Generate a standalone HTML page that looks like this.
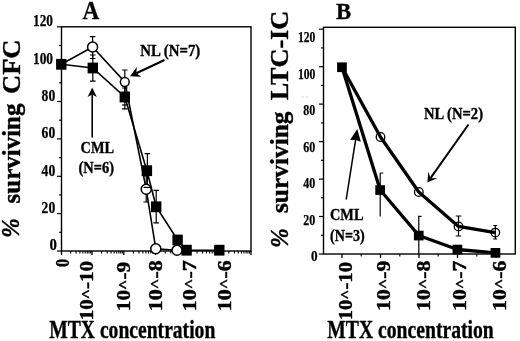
<!DOCTYPE html>
<html><head><meta charset="utf-8"><title>MTX</title>
<style>
html,body{margin:0;padding:0;background:#fff;}
body{width:520px;height:341px;overflow:hidden;}
svg{display:block;filter:grayscale(1) blur(0.3px);}
text{font-family:"Liberation Serif",serif;font-weight:bold;fill:#000;stroke:#000;stroke-width:0.38;stroke-linejoin:round;}
</style></head><body>
<svg width="520" height="341" viewBox="0 0 520 341">
<rect width="520" height="341" fill="#fff"/>

<rect x="61.5" y="26.8" width="189.5" height="224.2" fill="none" stroke="#000" stroke-width="1.4"/>
<line x1="56.9" y1="251.0" x2="61.5" y2="251.0" stroke="#000" stroke-width="1.2"/>
<line x1="59.1" y1="232.3" x2="61.5" y2="232.3" stroke="#000" stroke-width="1.2"/>
<line x1="56.9" y1="213.6" x2="61.5" y2="213.6" stroke="#000" stroke-width="1.2"/>
<line x1="59.1" y1="194.9" x2="61.5" y2="194.9" stroke="#000" stroke-width="1.2"/>
<line x1="56.9" y1="176.3" x2="61.5" y2="176.3" stroke="#000" stroke-width="1.2"/>
<line x1="59.1" y1="157.6" x2="61.5" y2="157.6" stroke="#000" stroke-width="1.2"/>
<line x1="56.9" y1="138.9" x2="61.5" y2="138.9" stroke="#000" stroke-width="1.2"/>
<line x1="59.1" y1="120.2" x2="61.5" y2="120.2" stroke="#000" stroke-width="1.2"/>
<line x1="56.9" y1="101.5" x2="61.5" y2="101.5" stroke="#000" stroke-width="1.2"/>
<line x1="59.1" y1="82.8" x2="61.5" y2="82.8" stroke="#000" stroke-width="1.2"/>
<line x1="56.9" y1="64.2" x2="61.5" y2="64.2" stroke="#000" stroke-width="1.2"/>
<line x1="59.1" y1="45.5" x2="61.5" y2="45.5" stroke="#000" stroke-width="1.2"/>
<line x1="56.9" y1="26.8" x2="61.5" y2="26.8" stroke="#000" stroke-width="1.2"/>
<text transform="translate(49.5 250.3) rotate(0)" font-size="16" text-anchor="start" textLength="7.4" lengthAdjust="spacingAndGlyphs" style="stroke-width:0.25">0</text>
<text transform="translate(41.6 212.9) rotate(0)" font-size="16" text-anchor="start" textLength="13.6" lengthAdjust="spacingAndGlyphs" style="stroke-width:0.25">20</text>
<text transform="translate(41.6 175.6) rotate(0)" font-size="16" text-anchor="start" textLength="13.6" lengthAdjust="spacingAndGlyphs" style="stroke-width:0.25">40</text>
<text transform="translate(41.6 138.2) rotate(0)" font-size="16" text-anchor="start" textLength="13.6" lengthAdjust="spacingAndGlyphs" style="stroke-width:0.25">60</text>
<text transform="translate(41.6 100.8) rotate(0)" font-size="16" text-anchor="start" textLength="13.6" lengthAdjust="spacingAndGlyphs" style="stroke-width:0.25">80</text>
<text transform="translate(33.0 63.5) rotate(0)" font-size="16" text-anchor="start" textLength="20" lengthAdjust="spacingAndGlyphs" style="stroke-width:0.25">100</text>
<text transform="translate(33.0 26.1) rotate(0)" font-size="16" text-anchor="start" textLength="20" lengthAdjust="spacingAndGlyphs" style="stroke-width:0.25">120</text>
<line x1="92.0" y1="251.0" x2="92.0" y2="255.0" stroke="#000" stroke-width="1.3"/>
<line x1="101.6" y1="251.0" x2="101.6" y2="253.5" stroke="#000" stroke-width="1.1"/>
<line x1="107.2" y1="251.0" x2="107.2" y2="253.5" stroke="#000" stroke-width="1.1"/>
<line x1="111.1" y1="251.0" x2="111.1" y2="253.5" stroke="#000" stroke-width="1.1"/>
<line x1="114.2" y1="251.0" x2="114.2" y2="253.5" stroke="#000" stroke-width="1.1"/>
<line x1="116.7" y1="251.0" x2="116.7" y2="253.5" stroke="#000" stroke-width="1.1"/>
<line x1="118.9" y1="251.0" x2="118.9" y2="253.5" stroke="#000" stroke-width="1.1"/>
<line x1="120.7" y1="251.0" x2="120.7" y2="253.5" stroke="#000" stroke-width="1.1"/>
<line x1="122.3" y1="251.0" x2="122.3" y2="253.5" stroke="#000" stroke-width="1.1"/>
<line x1="123.8" y1="251.0" x2="123.8" y2="255.0" stroke="#000" stroke-width="1.3"/>
<line x1="133.4" y1="251.0" x2="133.4" y2="253.5" stroke="#000" stroke-width="1.1"/>
<line x1="139.0" y1="251.0" x2="139.0" y2="253.5" stroke="#000" stroke-width="1.1"/>
<line x1="142.9" y1="251.0" x2="142.9" y2="253.5" stroke="#000" stroke-width="1.1"/>
<line x1="146.0" y1="251.0" x2="146.0" y2="253.5" stroke="#000" stroke-width="1.1"/>
<line x1="148.5" y1="251.0" x2="148.5" y2="253.5" stroke="#000" stroke-width="1.1"/>
<line x1="150.7" y1="251.0" x2="150.7" y2="253.5" stroke="#000" stroke-width="1.1"/>
<line x1="152.5" y1="251.0" x2="152.5" y2="253.5" stroke="#000" stroke-width="1.1"/>
<line x1="154.1" y1="251.0" x2="154.1" y2="253.5" stroke="#000" stroke-width="1.1"/>
<line x1="155.6" y1="251.0" x2="155.6" y2="255.0" stroke="#000" stroke-width="1.3"/>
<line x1="165.2" y1="251.0" x2="165.2" y2="253.5" stroke="#000" stroke-width="1.1"/>
<line x1="170.8" y1="251.0" x2="170.8" y2="253.5" stroke="#000" stroke-width="1.1"/>
<line x1="174.7" y1="251.0" x2="174.7" y2="253.5" stroke="#000" stroke-width="1.1"/>
<line x1="177.8" y1="251.0" x2="177.8" y2="253.5" stroke="#000" stroke-width="1.1"/>
<line x1="180.3" y1="251.0" x2="180.3" y2="253.5" stroke="#000" stroke-width="1.1"/>
<line x1="182.5" y1="251.0" x2="182.5" y2="253.5" stroke="#000" stroke-width="1.1"/>
<line x1="184.3" y1="251.0" x2="184.3" y2="253.5" stroke="#000" stroke-width="1.1"/>
<line x1="185.9" y1="251.0" x2="185.9" y2="253.5" stroke="#000" stroke-width="1.1"/>
<line x1="187.4" y1="251.0" x2="187.4" y2="255.0" stroke="#000" stroke-width="1.3"/>
<line x1="197.0" y1="251.0" x2="197.0" y2="253.5" stroke="#000" stroke-width="1.1"/>
<line x1="202.6" y1="251.0" x2="202.6" y2="253.5" stroke="#000" stroke-width="1.1"/>
<line x1="206.5" y1="251.0" x2="206.5" y2="253.5" stroke="#000" stroke-width="1.1"/>
<line x1="209.6" y1="251.0" x2="209.6" y2="253.5" stroke="#000" stroke-width="1.1"/>
<line x1="212.1" y1="251.0" x2="212.1" y2="253.5" stroke="#000" stroke-width="1.1"/>
<line x1="214.3" y1="251.0" x2="214.3" y2="253.5" stroke="#000" stroke-width="1.1"/>
<line x1="216.1" y1="251.0" x2="216.1" y2="253.5" stroke="#000" stroke-width="1.1"/>
<line x1="217.7" y1="251.0" x2="217.7" y2="253.5" stroke="#000" stroke-width="1.1"/>
<line x1="219.2" y1="251.0" x2="219.2" y2="255.0" stroke="#000" stroke-width="1.3"/>
<line x1="228.8" y1="251.0" x2="228.8" y2="253.5" stroke="#000" stroke-width="1.1"/>
<line x1="234.4" y1="251.0" x2="234.4" y2="253.5" stroke="#000" stroke-width="1.1"/>
<line x1="238.3" y1="251.0" x2="238.3" y2="253.5" stroke="#000" stroke-width="1.1"/>
<line x1="241.4" y1="251.0" x2="241.4" y2="253.5" stroke="#000" stroke-width="1.1"/>
<line x1="243.9" y1="251.0" x2="243.9" y2="253.5" stroke="#000" stroke-width="1.1"/>
<line x1="246.1" y1="251.0" x2="246.1" y2="253.5" stroke="#000" stroke-width="1.1"/>
<line x1="247.9" y1="251.0" x2="247.9" y2="253.5" stroke="#000" stroke-width="1.1"/>
<line x1="249.5" y1="251.0" x2="249.5" y2="253.5" stroke="#000" stroke-width="1.1"/>
<line x1="251.0" y1="251.0" x2="251.0" y2="255.0" stroke="#000" stroke-width="1.3"/>
<line x1="70.7" y1="251.0" x2="70.7" y2="253.5" stroke="#000" stroke-width="1.1"/>
<line x1="76.1" y1="251.0" x2="76.1" y2="253.5" stroke="#000" stroke-width="1.1"/>
<line x1="79.9" y1="251.0" x2="79.9" y2="253.5" stroke="#000" stroke-width="1.1"/>
<line x1="82.8" y1="251.0" x2="82.8" y2="253.5" stroke="#000" stroke-width="1.1"/>
<line x1="85.2" y1="251.0" x2="85.2" y2="253.5" stroke="#000" stroke-width="1.1"/>
<line x1="87.3" y1="251.0" x2="87.3" y2="253.5" stroke="#000" stroke-width="1.1"/>
<line x1="89.0" y1="251.0" x2="89.0" y2="253.5" stroke="#000" stroke-width="1.1"/>
<line x1="90.6" y1="251.0" x2="90.6" y2="253.5" stroke="#000" stroke-width="1.1"/>
<line x1="61.5" y1="251.0" x2="61.5" y2="255.0" stroke="#000" stroke-width="1.3"/>
<text transform="translate(69.3 267.0) rotate(-90)" font-size="18" text-anchor="start" textLength="8.2" lengthAdjust="spacingAndGlyphs">0</text>
<text transform="translate(92.8 320.3) rotate(-90)" font-size="18.5" text-anchor="start" textLength="59.3" lengthAdjust="spacingAndGlyphs">10<tspan font-size="15.5" dy="-0.9">^</tspan><tspan dy="0.9">-10</tspan></text>
<text transform="translate(129.6 311.2) rotate(-90)" font-size="18.5" text-anchor="start" textLength="49.5" lengthAdjust="spacingAndGlyphs">10<tspan font-size="15.5" dy="-0.9">^</tspan><tspan dy="0.9">-9</tspan></text>
<text transform="translate(162.0 311.2) rotate(-90)" font-size="18.5" text-anchor="start" textLength="51" lengthAdjust="spacingAndGlyphs">10<tspan font-size="15.5" dy="-0.9">^</tspan><tspan dy="0.9">-8</tspan></text>
<text transform="translate(196.0 311.2) rotate(-90)" font-size="18.5" text-anchor="start" textLength="51" lengthAdjust="spacingAndGlyphs">10<tspan font-size="15.5" dy="-0.9">^</tspan><tspan dy="0.9">-7</tspan></text>
<text transform="translate(231.2 311.2) rotate(-90)" font-size="18.5" text-anchor="start" textLength="51" lengthAdjust="spacingAndGlyphs">10<tspan font-size="15.5" dy="-0.9">^</tspan><tspan dy="0.9">-6</tspan></text>
<path d="M92.6 36.6V58.5M89.8 36.6H95.4M89.8 58.5H95.4" stroke="#000" stroke-width="1.2" fill="none"/>
<path d="M92.8 55.0V81.2M90.0 55.0H95.6M90.0 81.2H95.6" stroke="#000" stroke-width="1.2" fill="none"/>
<path d="M124.8 70.0V94.0M122.0 70.0H127.6M122.0 94.0H127.6" stroke="#000" stroke-width="1.2" fill="none"/>
<path d="M124.8 88.0V108.8M122.0 88.0H127.6M122.0 108.8H127.6" stroke="#000" stroke-width="1.2" fill="none"/>
<path d="M122 105H127.6" stroke="#000" stroke-width="1.2"/>
<path d="M147.4 153.7V187.0M144.6 153.7H150.2M144.6 187.0H150.2" stroke="#000" stroke-width="1.2" fill="none"/>
<path d="M146.2 176.0V202.0M143.4 176.0H149.0M143.4 202.0H149.0" stroke="#000" stroke-width="1.2" fill="none"/>
<path d="M156.2 190.3V222.9M153.4 190.3H159.0M153.4 222.9H159.0" stroke="#000" stroke-width="1.2" fill="none"/>
<polyline fill="none" stroke="#000" stroke-width="1.6" points="61.3,64.3 92.6,47.0 124.8,82.0 146.2,189.2 155.8,248.8 177.0,250.2"/>
<polyline fill="none" stroke="#000" stroke-width="1.6" points="61.3,64.3 92.8,68.0 124.8,97.0 146.9,170.7 156.2,206.8 177.6,240.0 186.6,250.2 219.3,250.2"/>
<circle cx="92.6" cy="47.0" r="5.0" fill="#fff" stroke="#000" stroke-width="1.5"/>
<circle cx="124.8" cy="82.0" r="4.4" fill="#fff" stroke="#000" stroke-width="1.5"/>
<circle cx="146.2" cy="189.2" r="5.0" fill="#fff" stroke="#000" stroke-width="1.5"/>
<circle cx="155.8" cy="248.8" r="5.0" fill="#fff" stroke="#000" stroke-width="1.5"/>
<circle cx="177.0" cy="250.2" r="5.0" fill="#fff" stroke="#000" stroke-width="1.5"/>
<rect x="56.1" y="58.9" width="10.4" height="10.8" fill="#000"/>
<rect x="87.6" y="62.6" width="10.4" height="10.8" fill="#000"/>
<rect x="119.6" y="91.6" width="10.4" height="10.8" fill="#000"/>
<rect x="141.7" y="165.3" width="10.4" height="10.8" fill="#000"/>
<rect x="151.0" y="201.4" width="10.4" height="10.8" fill="#000"/>
<rect x="172.4" y="234.6" width="10.4" height="10.8" fill="#000"/>
<rect x="181.4" y="244.8" width="10.4" height="10.8" fill="#000"/>
<rect x="214.1" y="244.8" width="10.4" height="10.8" fill="#000"/>
<path d="M143.6 187.4H150.4" stroke="#000" stroke-width="1.2"/>
<text transform="translate(82.5 18.8) rotate(0)" font-size="25.8" text-anchor="start" textLength="16.8" lengthAdjust="spacingAndGlyphs" style="stroke-width:0.3">A</text>
<text transform="translate(140.3 55.6) rotate(0)" font-size="17.5" text-anchor="start" textLength="60" lengthAdjust="spacingAndGlyphs">NL (N=7)</text>
<path d="M164.5 60.0L136.3 73.2" stroke="#000" stroke-width="2.1" fill="none"/>
<path d="M130.0 76.2L136.8 67.1L136.3 73.2L141.3 76.8Z" fill="#000"/>
<text transform="translate(80.6 152.6) rotate(0)" font-size="17.5" text-anchor="start" textLength="33.5" lengthAdjust="spacingAndGlyphs">CML</text>
<text transform="translate(78.5 173.2) rotate(0)" font-size="17.5" text-anchor="start" textLength="35.5" lengthAdjust="spacingAndGlyphs">(N=6)</text>
<path d="M92.2 137.5L92.2 94.5" stroke="#000" stroke-width="1.6" fill="none"/>
<path d="M92.2 87.5L96.8 97.0L92.2 94.5L87.6 97.0Z" fill="#000"/>
<text transform="translate(49.3 338.0) rotate(0)" font-size="25.5" text-anchor="start" textLength="166" lengthAdjust="spacingAndGlyphs">MTX concentration</text>
<text transform="translate(19.2 237.8) rotate(-90)" font-size="25" text-anchor="start" textLength="19.5" lengthAdjust="spacingAndGlyphs" font-style="italic">%</text>
<text transform="translate(20.0 203.5) rotate(-90)" font-size="25" text-anchor="start" textLength="100" lengthAdjust="spacingAndGlyphs">surviving</text>
<text transform="translate(20.0 94.0) rotate(-90)" font-size="25" text-anchor="start" textLength="54.5" lengthAdjust="spacingAndGlyphs">CFC</text>
<rect x="323.5" y="27.3" width="191.79999999999995" height="226.70000000000002" fill="none" stroke="#000" stroke-width="1.4"/>
<line x1="318.9" y1="254.0" x2="323.5" y2="254.0" stroke="#000" stroke-width="1.2"/>
<line x1="321.1" y1="235.3" x2="323.5" y2="235.3" stroke="#000" stroke-width="1.2"/>
<line x1="318.9" y1="216.5" x2="323.5" y2="216.5" stroke="#000" stroke-width="1.2"/>
<line x1="321.1" y1="197.8" x2="323.5" y2="197.8" stroke="#000" stroke-width="1.2"/>
<line x1="318.9" y1="179.1" x2="323.5" y2="179.1" stroke="#000" stroke-width="1.2"/>
<line x1="321.1" y1="160.3" x2="323.5" y2="160.3" stroke="#000" stroke-width="1.2"/>
<line x1="318.9" y1="141.6" x2="323.5" y2="141.6" stroke="#000" stroke-width="1.2"/>
<line x1="321.1" y1="122.9" x2="323.5" y2="122.9" stroke="#000" stroke-width="1.2"/>
<line x1="318.9" y1="104.1" x2="323.5" y2="104.1" stroke="#000" stroke-width="1.2"/>
<line x1="321.1" y1="85.4" x2="323.5" y2="85.4" stroke="#000" stroke-width="1.2"/>
<line x1="318.9" y1="66.7" x2="323.5" y2="66.7" stroke="#000" stroke-width="1.2"/>
<line x1="321.1" y1="47.9" x2="323.5" y2="47.9" stroke="#000" stroke-width="1.2"/>
<line x1="318.9" y1="29.2" x2="323.5" y2="29.2" stroke="#000" stroke-width="1.2"/>
<text transform="translate(311.0 261.0) rotate(0)" font-size="14.5" text-anchor="start" textLength="6.6" lengthAdjust="spacingAndGlyphs" style="stroke-width:0.25">0</text>
<text transform="translate(303.3 224.5) rotate(0)" font-size="14.5" text-anchor="start" textLength="12.0" lengthAdjust="spacingAndGlyphs" style="stroke-width:0.25">20</text>
<text transform="translate(303.3 188.1) rotate(0)" font-size="14.5" text-anchor="start" textLength="12.0" lengthAdjust="spacingAndGlyphs" style="stroke-width:0.25">40</text>
<text transform="translate(303.3 151.6) rotate(0)" font-size="14.5" text-anchor="start" textLength="12.0" lengthAdjust="spacingAndGlyphs" style="stroke-width:0.25">60</text>
<text transform="translate(303.3 115.1) rotate(0)" font-size="14.5" text-anchor="start" textLength="12.0" lengthAdjust="spacingAndGlyphs" style="stroke-width:0.25">80</text>
<text transform="translate(297.9 78.7) rotate(0)" font-size="14.5" text-anchor="start" textLength="17.4" lengthAdjust="spacingAndGlyphs" style="stroke-width:0.25">100</text>
<text transform="translate(297.9 42.2) rotate(0)" font-size="14.5" text-anchor="start" textLength="17.4" lengthAdjust="spacingAndGlyphs" style="stroke-width:0.25">120</text>
<line x1="342.0" y1="254.0" x2="342.0" y2="258.0" stroke="#000" stroke-width="1.3"/>
<line x1="361.2" y1="254.0" x2="361.2" y2="256.5" stroke="#000" stroke-width="1.1"/>
<line x1="380.5" y1="254.0" x2="380.5" y2="258.0" stroke="#000" stroke-width="1.3"/>
<line x1="399.8" y1="254.0" x2="399.8" y2="256.5" stroke="#000" stroke-width="1.1"/>
<line x1="419.0" y1="254.0" x2="419.0" y2="258.0" stroke="#000" stroke-width="1.3"/>
<line x1="438.2" y1="254.0" x2="438.2" y2="256.5" stroke="#000" stroke-width="1.1"/>
<line x1="457.5" y1="254.0" x2="457.5" y2="258.0" stroke="#000" stroke-width="1.3"/>
<line x1="476.8" y1="254.0" x2="476.8" y2="256.5" stroke="#000" stroke-width="1.1"/>
<line x1="496.0" y1="254.0" x2="496.0" y2="258.0" stroke="#000" stroke-width="1.3"/>
<text transform="translate(351.7 320.3) rotate(-90)" font-size="18.5" text-anchor="start" textLength="58.3" lengthAdjust="spacingAndGlyphs">10<tspan font-size="15.5" dy="-0.9">^</tspan><tspan dy="0.9">-10</tspan></text>
<text transform="translate(390.2 311.0) rotate(-90)" font-size="18.5" text-anchor="start" textLength="50.5" lengthAdjust="spacingAndGlyphs">10<tspan font-size="15.5" dy="-0.9">^</tspan><tspan dy="0.9">-9</tspan></text>
<text transform="translate(429.6 311.0) rotate(-90)" font-size="18.5" text-anchor="start" textLength="50.5" lengthAdjust="spacingAndGlyphs">10<tspan font-size="15.5" dy="-0.9">^</tspan><tspan dy="0.9">-8</tspan></text>
<text transform="translate(466.4 311.0) rotate(-90)" font-size="18.5" text-anchor="start" textLength="50.5" lengthAdjust="spacingAndGlyphs">10<tspan font-size="15.5" dy="-0.9">^</tspan><tspan dy="0.9">-7</tspan></text>
<text transform="translate(505.6 311.0) rotate(-90)" font-size="18.5" text-anchor="start" textLength="50.5" lengthAdjust="spacingAndGlyphs">10<tspan font-size="15.5" dy="-0.9">^</tspan><tspan dy="0.9">-6</tspan></text>
<path d="M380.2 173V216.4M380.2 173H383.4" stroke="#000" stroke-width="1.2" fill="none"/>
<path d="M418.8 216.4V254M418.0 216.4H421.6" stroke="#000" stroke-width="1.2" fill="none"/>
<polyline fill="none" stroke="#000" stroke-width="3.3" stroke-linejoin="round" points="342.0,67.2 380.5,137.0 418.8,192.0 458.5,226.4 495.3,232.6"/>
<polyline fill="none" stroke="#000" stroke-width="3.3" stroke-linejoin="round" points="342.0,67.2 380.2,190.0 418.8,235.5 457.5,249.5 495.5,252.8"/>
<circle cx="380.5" cy="137.0" r="4.3" fill="none" stroke="#000" stroke-width="1.3"/>
<circle cx="418.8" cy="192.0" r="4.3" fill="none" stroke="#000" stroke-width="1.3"/>
<circle cx="458.5" cy="226.4" r="4.3" fill="none" stroke="#000" stroke-width="1.3"/>
<circle cx="495.3" cy="232.6" r="4.3" fill="none" stroke="#000" stroke-width="1.3"/>
<path d="M458.5 216.0V236.0M455.7 216.0H461.3M455.7 236.0H461.3" stroke="#000" stroke-width="1.2" fill="none"/>
<path d="M495.3 225.5V239.0M493.3 225.5H497.3M493.3 239.0H497.3" stroke="#000" stroke-width="1.2" fill="none"/>
<rect x="337.1" y="62.4" width="9.7" height="9.7" fill="#000"/>
<rect x="375.3" y="185.2" width="9.7" height="9.7" fill="#000"/>
<rect x="413.9" y="230.7" width="9.7" height="9.7" fill="#000"/>
<rect x="452.6" y="244.7" width="9.7" height="9.7" fill="#000"/>
<rect x="490.6" y="248.0" width="9.7" height="9.7" fill="#000"/>
<text transform="translate(336.1 18.8) rotate(0)" font-size="24" text-anchor="start" textLength="15.2" lengthAdjust="spacingAndGlyphs" style="stroke-width:0.3">B</text>
<text transform="translate(424.0 118.8) rotate(0)" font-size="17.5" text-anchor="start" textLength="59" lengthAdjust="spacingAndGlyphs">NL (N=2)</text>
<path d="M468.5 124.5L430.5 178.2" stroke="#000" stroke-width="2.0" fill="none"/>
<path d="M427.4 182.5L428.3 171.5L430.5 178.2L437.5 178.0Z" fill="#000"/>
<text transform="translate(330.0 220.0) rotate(0)" font-size="17.5" text-anchor="start" textLength="33.5" lengthAdjust="spacingAndGlyphs">CML</text>
<text transform="translate(330.0 240.6) rotate(0)" font-size="17.5" text-anchor="start" textLength="34.7" lengthAdjust="spacingAndGlyphs">(N=3)</text>
<path d="M346.2 199.5L355.6 139.9" stroke="#000" stroke-width="1.5" fill="none"/>
<path d="M357.3 129.0L360.8 141.7L355.6 139.9L350.1 140.0Z" fill="#000"/>
<text transform="translate(327.3 338.2) rotate(0)" font-size="25.5" text-anchor="start" textLength="166.5" lengthAdjust="spacingAndGlyphs">MTX concentration</text>
<text transform="translate(288.3 247.8) rotate(-90)" font-size="25" text-anchor="start" textLength="19.5" lengthAdjust="spacingAndGlyphs" font-style="italic">%</text>
<text transform="translate(288.0 213.0) rotate(-90)" font-size="25" text-anchor="start" textLength="101.5" lengthAdjust="spacingAndGlyphs">surviving</text>
<text transform="translate(288.0 100.2) rotate(-90)" font-size="25" text-anchor="start" textLength="89.5" lengthAdjust="spacingAndGlyphs">LTC-IC</text>
<path d="M301 97H311" stroke="#d8d8d8" stroke-width="1" stroke-dasharray="3 2"/>
</svg></body></html>
